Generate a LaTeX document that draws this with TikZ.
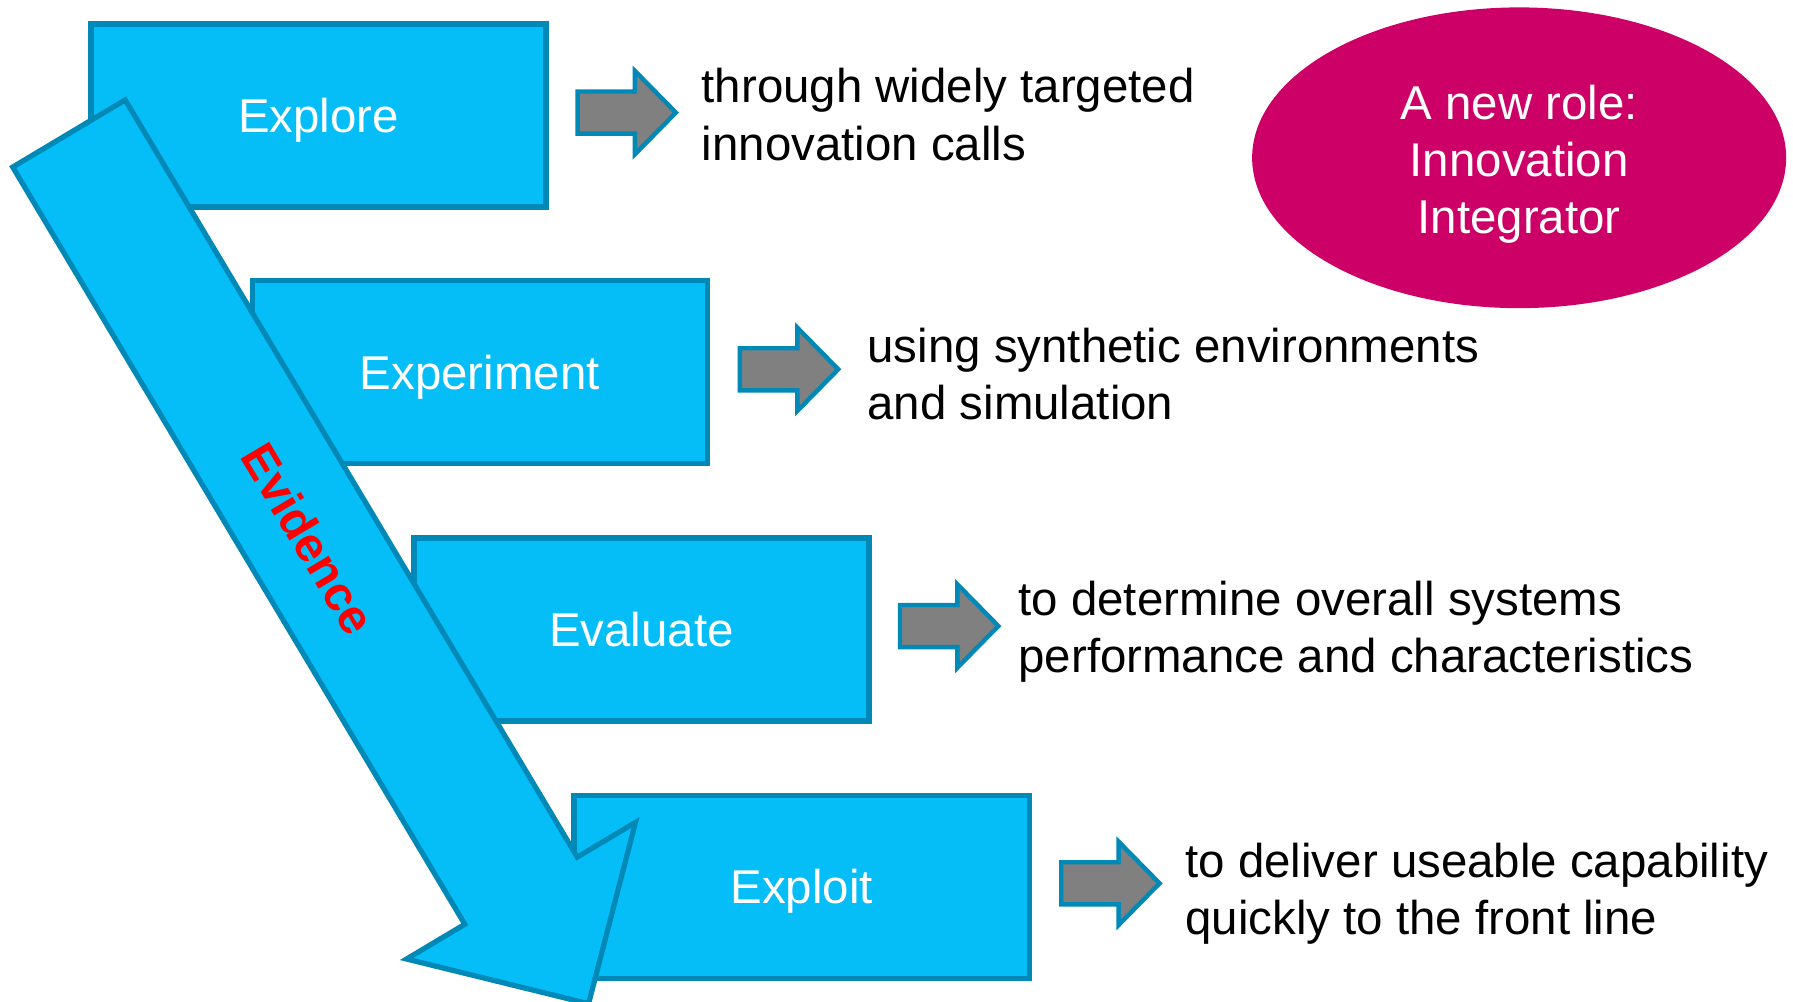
\documentclass[tikz,border=0pt]{standalone}
\usepackage{fontspec}
\setmainfont{Liberation Sans}
\usepackage{tikz}
\usetikzlibrary{shapes,shapes.arrows,positioning}
\definecolor{stagefill}{RGB}{6,190,247}
\definecolor{stageline}{RGB}{0,136,182}
\definecolor{rolefill}{RGB}{204,0,102}
\definecolor{pointerfill}{RGB}{128,128,128}
\tikzset{
    stage/.style={
    rectangle,draw=stageline,fill=stagefill,line width=1.3pt,
    minimum width=3.98cm,minimum height=1.6cm,text=white,
    text height=0.30cm,text depth=0pt,
    font=\fontsize{11.8}{13.4}\selectfont
    },
    pointer/.style={
    single arrow,draw=stageline,fill=pointerfill,line width=1.1pt,
    inner xsep=0pt,inner ysep=0.165cm,minimum height=0.86cm,
    single arrow head extend=0.18cm,single arrow tip angle=91
    },
    note/.style={
    anchor=base west,align=left,inner sep=0pt,
    font=\fontsize{11.8}{14.2}\selectfont
    },
    role/.style={
    ellipse,fill=rolefill,inner sep=0pt,
    minimum width=4.67cm,minimum height=2.63cm
    },
    roletext/.style={
    text=white,align=center,inner sep=0pt,
    font=\fontsize{11.8}{14.2}\selectfont
    },
    evidarrow/.style={
    single arrow,draw=stageline,fill=stagefill,line width=1.3pt,
    inner xsep=0pt,inner ysep=0.55cm,minimum height=8.864cm,
    single arrow head extend=0.593cm,single arrow tip angle=90.7
    },
    evidtext/.style={
    text=red,font=\fontsize{12}{14}\selectfont\bfseries
    },
}
\begin{document}
\begin{tikzpicture}[line join=miter]
   \useasboundingbox (0,0) rectangle (15.68,8.76);

   %stages
   \node[stage] (explore) at (2.785,7.75) {Explore};
   \node[stage] (experiment) at (4.195,5.505) {Experiment};
   \node[stage] (evaluate) at (5.61,3.255) {Evaluate};
   \node[stage] (exploit) at (7.01,1.005) {Exploit};

   %pointers
   \node[pointer] (a1) at (5.39,7.775) {};
   \node[pointer] (a2) at (6.81,5.53) {};
   \node[pointer] (a3) at (8.21,3.285) {};
   \node[pointer] (a4) at (9.62,1.035) {};

   %notes
   \node[note] (t1) at (6.13,7.36) {through widely targeted\\innovation calls};
   \node[note] (t2) at (7.58,5.09) {using synthetic environments\\and simulation};
   \node[note] (t3) at (8.90,2.88) {to determine overall systems\\performance and characteristics};
   \node[note] (t4) at (10.36,0.59) {to deliver useable capability\\quickly to the front line};

   %new role
   \node[role] (role) at (13.285,7.38) {};
   \node[roletext] (rolelabel) at ([yshift=-0.06cm]role.center) {A new role:\\Innovation\\Integrator};

   %evidence
   \node[evidarrow,rotate=-59.16] (ev) at (2.73,4.03) {};
   \node[evidtext,rotate=-59.16] (evlabel) at (2.70,4.05) {Evidence};
\end{tikzpicture}
\end{document}
